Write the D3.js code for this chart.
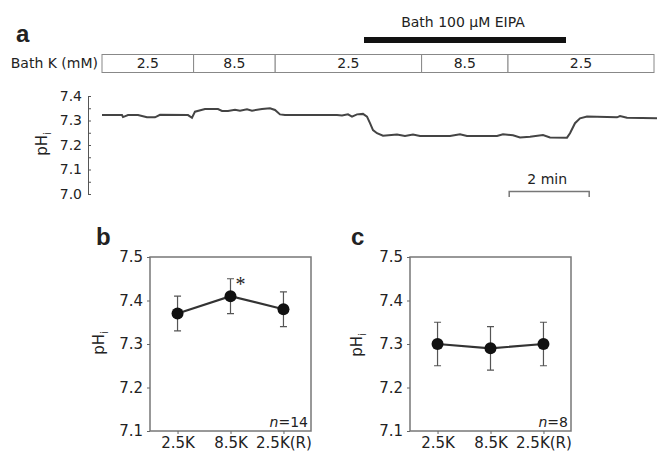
<!DOCTYPE html>
<html>
<head>
<meta charset="utf-8">
<script src="https://cdn.jsdelivr.net/npm/d3@7"></script>
<style>
  body { margin: 0; background: #fff; }
  text { font-family: "DejaVu Sans", sans-serif; fill: #222; }
</style>
</head>
<body>
<div id="chart"></div>
<script>
// Panel a: pHi trace (time in min, pH)
const traceTime = [0, 0.5, 0.525, 0.65, 0.9, 1.125, 1.325, 1.45, 2.15, 2.25, 2.325, 2.575, 2.9, 3.0, 3.15,
  3.325, 3.45, 3.625, 3.75, 4.0, 4.2, 4.325, 4.45, 4.575, 5.875, 6.0, 6.15, 6.25, 6.375, 6.525, 6.625,
  6.7, 6.775, 6.875, 7.025, 7.375, 7.575, 7.775, 7.95, 8.7, 8.95, 9.125, 9.875, 10.025, 10.275, 10.45,
  10.7, 11.025, 11.2, 11.625, 11.7, 11.825, 11.95, 12.125, 12.875, 12.95, 13.125, 13.875];
const tracePH = [7.322, 7.322, 7.314, 7.322, 7.322, 7.313, 7.313, 7.323, 7.322, 7.311, 7.336, 7.347, 7.347, 7.339, 7.339,
  7.344, 7.340, 7.346, 7.340, 7.347, 7.350, 7.343, 7.325, 7.322, 7.322, 7.320, 7.325, 7.316, 7.325, 7.327, 7.316,
  7.289, 7.261, 7.248, 7.238, 7.243, 7.237, 7.243, 7.237, 7.237, 7.244, 7.237, 7.237, 7.244, 7.240, 7.231,
  7.234, 7.241, 7.231, 7.230, 7.248, 7.289, 7.309, 7.316, 7.313, 7.318, 7.311, 7.309];

// bath K segments (boundaries in min) and labels
const segBounds = [0, 2.29, 4.33, 7.99, 10.15, 13.8];
const segLabels = ["2.5", "8.5", "2.5", "8.5", "2.5"];
const eipaSpan = [6.55, 11.6];
const scaleBar = [10.18, 12.18];

// Panels b and c: mean pHi +/- error
const conditions = ["2.5K", "8.5K", "2.5K(R)"];
const meanB = [7.37, 7.41, 7.38];
const errB = [0.04, 0.04, 0.04];
const meanC = [7.30, 7.29, 7.30];
const errC = [0.05, 0.05, 0.05];

const width = 657, height = 456;

const svg = d3.select("#chart")
  .append("svg")
  .attr("width", width)
  .attr("height", height);

// ---------- panel a ----------
const xA = d3.scaleLinear().domain([0, 13.875]).range([102, 657]);
const yA = d3.scaleLinear().domain([7.0, 7.4]).range([194, 96]);

svg.append("text")
  .attr("x", 16).attr("y", 42)
  .style("font-family", "Liberation Sans, Arial, sans-serif")
  .style("font-weight", "bold")
  .style("font-size", "24px")
  .text("a");

svg.append("text")
  .attr("x", 463).attr("y", 27)
  .attr("text-anchor", "middle")
  .style("font-size", "14px")
  .text("Bath 100 \u03bcM EIPA");

svg.append("rect")
  .attr("x", xA(eipaSpan[0]))
  .attr("y", 37)
  .attr("width", xA(eipaSpan[1]) - xA(eipaSpan[0]))
  .attr("height", 6)
  .attr("fill", "#111");

svg.append("text")
  .attr("x", 98).attr("y", 68)
  .attr("text-anchor", "end")
  .style("font-size", "14px")
  .text("Bath K (mM)");

const segs = svg.append("g");
segLabels.forEach((lab, i) => {
  const x0 = xA(segBounds[i]), x1 = xA(segBounds[i + 1]);
  segs.append("rect")
    .attr("x", x0).attr("y", 54.5)
    .attr("width", x1 - x0).attr("height", 18)
    .attr("fill", "#fff")
    .attr("stroke", "#888")
    .attr("stroke-width", 1);
  segs.append("text")
    .attr("x", (x0 + x1) / 2).attr("y", 68)
    .attr("text-anchor", "middle")
    .style("font-size", "14px")
    .text(lab);
});

const axA = svg.append("g")
  .attr("transform", "translate(88,0)")
  .call(d3.axisLeft(yA)
    .tickValues(d3.range(0, 9).map(i => 7 + i * 0.05))
    .tickSize(-3)
    .tickSizeOuter(0)
    .tickPadding(6)
    .tickFormat(d => Math.round(d * 20) % 2 === 0 ? d3.format(".1f")(d) : ""));
axA.selectAll("path, line").attr("stroke", "#555");
axA.selectAll("text").style("font-size", "14px").style("font-family", "DejaVu Sans, sans-serif").attr("fill", "#222");

function phLabel(x, y) {
  const t = svg.append("text")
    .attr("transform", `translate(${x},${y}) rotate(-90)`)
    .attr("text-anchor", "middle")
    .style("font-size", "15px");
  t.append("tspan").text("pH");
  t.append("tspan").attr("dy", 4).style("font-size", "10px").text("i");
}
phLabel(47, 144);

const line = d3.line()
  .x(d => xA(d[0]))
  .y(d => yA(d[1]));

svg.append("path")
  .datum(traceTime.map((t, i) => [t, tracePH[i]]))
  .attr("d", line)
  .attr("fill", "none")
  .attr("stroke", "#444")
  .attr("stroke-width", 2);

// 2 min scale bar
svg.append("path")
  .attr("d", `M${xA(scaleBar[0])},197V191.5H${xA(scaleBar[1])}V197`)
  .attr("fill", "none")
  .attr("stroke", "#777")
  .attr("stroke-width", 1.5);

svg.append("text")
  .attr("x", (xA(scaleBar[0]) + xA(scaleBar[1])) / 2 - 2).attr("y", 184)
  .attr("text-anchor", "middle")
  .style("font-size", "14px")
  .text("2 min");

// ---------- panels b and c ----------
function meanPanel(left, label, labelX, means, errs, nText, star) {
  const right = left + 161, top = 257, bottom = 431;
  const x = d3.scalePoint().domain(conditions).range([left, right]).padding(0.52);
  const y = d3.scaleLinear().domain([7.1, 7.5]).range([bottom, top]);

  svg.append("text")
    .attr("x", labelX).attr("y", 245)
    .style("font-family", "Liberation Sans, Arial, sans-serif")
    .style("font-weight", "bold")
    .style("font-size", "24px")
    .text(label);

  svg.append("rect")
    .attr("x", left).attr("y", top)
    .attr("width", right - left).attr("height", bottom - top)
    .attr("fill", "none")
    .attr("stroke", "#777")
    .attr("stroke-width", 1.5);

  const ay = svg.append("g")
    .attr("transform", `translate(${left},0)`)
    .call(d3.axisLeft(y).tickValues([7.1, 7.2, 7.3, 7.4, 7.5]).tickSize(3).tickSizeOuter(0).tickPadding(4)
      .tickFormat(d3.format(".1f")));
  const ax = svg.append("g")
    .attr("transform", `translate(0,${bottom})`)
    .call(d3.axisBottom(x).tickSize(3).tickSizeOuter(0).tickPadding(3));
  [ay, ax].forEach(a => {
    a.select(".domain").remove();
    a.selectAll("line").attr("stroke", "#666");
    a.selectAll("text").style("font-size", "15px").style("font-family", "DejaVu Sans, sans-serif").attr("fill", "#222");
  });

  const pts = conditions.map((c, i) => ({ c: c, m: means[i], e: errs[i] }));

  // error bars
  pts.forEach(p => {
    const cx = x(p.c);
    svg.append("path")
      .attr("d", `M${cx},${y(p.m + p.e)}V${y(p.m - p.e)}M${cx - 3.5},${y(p.m + p.e)}H${cx + 3.5}M${cx - 3.5},${y(p.m - p.e)}H${cx + 3.5}`)
      .attr("fill", "none")
      .attr("stroke", "#555")
      .attr("stroke-width", 1.2);
  });

  svg.append("path")
    .datum(pts)
    .attr("d", d3.line().x(d => x(d.c)).y(d => y(d.m)))
    .attr("fill", "none")
    .attr("stroke", "#333")
    .attr("stroke-width", 2.2);

  svg.selectAll(null)
    .data(pts)
    .enter()
    .append("circle")
    .attr("cx", d => x(d.c))
    .attr("cy", d => y(d.m))
    .attr("r", 6)
    .attr("fill", "#111");

  const n = svg.append("text")
    .attr("x", right - 3).attr("y", bottom - 4)
    .attr("text-anchor", "end")
    .style("font-size", "14px");
  n.append("tspan").style("font-style", "italic").text("n");
  n.append("tspan").text(nText);

  if (star) {
    svg.append("text")
      .attr("x", x(conditions[1]) + 10)
      .attr("y", y(means[1] + errs[1]) + 12)
      .attr("text-anchor", "middle")
      .style("font-family", "Liberation Serif, serif")
      .style("font-size", "20px")
      .text("*");
  }
}

meanPanel(150, "b", 96, meanB, errB, "=14", true);
phLabel(104, 343);
meanPanel(410, "c", 351, meanC, errC, "=8", false);
phLabel(362, 345);
</script>
</body>
</html>
